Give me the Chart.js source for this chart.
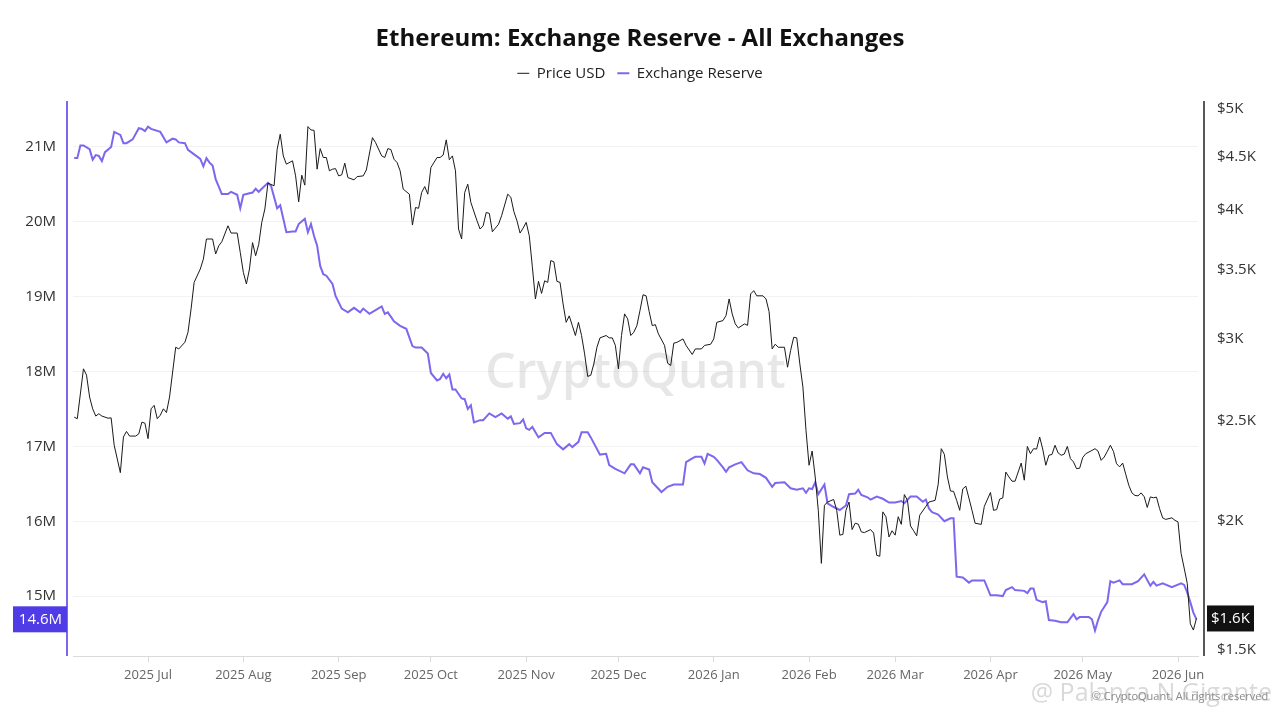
<!DOCTYPE html>
<html>
<head>
<meta charset="utf-8">
<script src="https://cdn.jsdelivr.net/npm/chart.js@4.4.1/dist/chart.umd.min.js"></script>
<style>
html,body{margin:0;padding:0;background:#fff;}
#wrap{width:1280px;height:720px;position:relative;}
</style>
</head>
<body>
<div id="wrap"><canvas id="c" width="1280" height="720"></canvas></div>
<script>
// ---------- DATA ----------
const START_DATE = '2025-06-01'; // day 0 for the day-offset arrays below

const monthTicks = ['2025-07-01','2025-08-01','2025-09-01','2025-10-01','2025-11-01','2025-12-01',
                    '2026-01-01','2026-02-01','2026-03-01','2026-04-01','2026-05-01','2026-06-01'];
const monthLabels = ['2025 Jul','2025 Aug','2025 Sep','2025 Oct','2025 Nov','2025 Dec',
                     '2026 Jan','2026 Feb','2026 Mar','2026 Apr','2026 May','2026 Jun'];
const reserveTicks = [15,16,17,18,19,20,21];           // millions ETH
const priceTicks = [1500,2000,2500,3000,3500,4000,4500,5000]; // USD

// Exchange Reserve (millions ETH), day offsets from START_DATE
const reserveDay = [6,7,8,9,11,12,13,14,15,16,18,19,21,22,23,25,27,28,29,30,31,34,36,38,39,40,42,43,45,47,48,49,50,51,52,54,56,57,59,60,61,62,64,65,66,67,69,70,72,73,75,77,78,79,81,82,83,84,85,86,87,88,90,91,93,95,97,99,100,102,104,106,107,108,110,112,114,116,117,119,121,122,124,125,126,127,128,129,130,132,133,134,135,136,138,139,141,143,145,147,148,149,151,152,153,154,155,157,159,161,163,165,167,168,170,171,173,174,177,179,180,182,185,187,188,190,191,193,194,197,199,201,204,205,207,208,210,211,212,214,215,217,218,219,221,223,225,227,229,231,233,234,237,239,241,243,244,245,246,247,248,250,251,253,255,257,258,260,261,262,264,265,267,269,271,273,275,276,278,280,282,283,284,285,287,289,291,292,293,295,297,298,300,302,304,306,308,309,311,312,315,316,317,318,319,321,322,323,325,327,329,331,332,333,336,337,338,339,340,342,343,344,346,347,350,352,354,356,357,358,360,363,366,367,368,369,370,371];
const reserveM = [20.85,20.85,21.02,21.02,20.97,20.83,20.89,20.88,20.81,20.93,21.00,21.20,21.16,21.05,21.05,21.10,21.25,21.24,21.21,21.27,21.24,21.20,21.06,21.11,21.10,21.06,21.05,20.96,20.90,20.84,20.74,20.85,20.79,20.75,20.57,20.37,20.37,20.40,20.36,20.18,20.36,20.37,20.39,20.44,20.40,20.44,20.52,20.48,20.18,20.22,19.86,19.87,19.87,19.97,20.04,19.86,19.97,19.81,19.68,19.41,19.30,19.28,19.17,19.01,18.84,18.79,18.85,18.79,18.84,18.77,18.82,18.87,18.77,18.79,18.67,18.61,18.57,18.34,18.32,18.32,18.24,17.98,17.88,17.90,17.97,17.91,17.96,17.76,17.76,17.64,17.63,17.50,17.55,17.32,17.35,17.35,17.44,17.39,17.44,17.37,17.40,17.30,17.31,17.36,17.24,17.22,17.26,17.12,17.18,17.18,17.03,16.96,17.03,16.99,17.06,17.19,17.19,17.12,16.89,16.90,16.75,16.70,16.64,16.76,16.76,16.64,16.72,16.69,16.52,16.39,16.46,16.49,16.49,16.79,16.84,16.86,16.86,16.77,16.90,16.86,16.82,16.72,16.66,16.72,16.76,16.79,16.68,16.64,16.63,16.58,16.46,16.51,16.52,16.44,16.42,16.44,16.38,16.44,16.43,16.52,16.36,16.49,16.24,16.19,16.15,16.21,16.36,16.37,16.42,16.35,16.32,16.29,16.33,16.30,16.25,16.25,16.27,16.24,16.33,16.33,16.26,16.29,16.17,16.12,16.09,16.00,16.04,16.04,15.26,15.25,15.18,15.21,15.21,15.21,15.01,15.01,15.00,15.08,15.12,15.08,15.07,15.04,15.10,15.10,14.95,14.92,14.93,14.68,14.67,14.65,14.65,14.76,14.69,14.72,14.72,14.69,14.54,14.68,14.79,14.92,15.20,15.18,15.21,15.16,15.16,15.20,15.29,15.14,15.19,15.14,15.17,15.12,15.17,15.15,15.05,14.92,14.78,14.69];

// ETH price (USD), day offsets from START_DATE
const priceDay = [6,7,9,10,11,12,13,14,15,17,18,19,21,22,23,24,26,27,28,29,30,31,32,33,34,35,36,37,39,40,42,43,44,45,47,48,49,51,52,53,54,56,57,59,60,61,62,63,64,65,66,67,68,69,71,72,73,74,75,77,78,79,80,81,82,83,84,85,86,87,88,89,90,91,92,93,94,95,97,98,100,101,103,104,106,107,108,109,110,111,112,113,115,116,117,118,119,120,121,122,124,125,126,127,128,129,130,131,132,133,134,135,137,138,139,140,141,142,144,145,147,148,149,150,151,152,153,154,155,156,157,158,159,160,161,162,163,164,165,166,167,168,169,170,171,172,173,174,175,176,177,179,180,181,182,183,184,185,186,187,188,189,190,191,192,193,194,195,196,198,199,200,201,202,204,205,207,208,210,211,213,214,215,217,218,219,220,221,222,224,225,226,227,228,230,231,232,233,234,235,237,238,239,240,241,242,243,244,245,246,247,248,249,250,251,253,254,255,256,257,258,259,260,261,262,263,265,266,267,268,269,270,271,272,273,274,275,276,277,278,279,280,281,283,284,286,287,288,289,290,291,292,293,294,295,296,298,299,301,302,304,305,306,307,308,309,310,311,312,314,315,316,317,318,319,320,321,322,323,324,325,326,327,328,329,330,331,332,333,334,335,337,338,339,340,341,342,343,344,345,346,347,348,349,350,351,352,353,354,355,356,357,358,359,360,361,363,364,365,366,367,368,369,370,371];
const priceUSD = [2519,2510,2805,2766,2634,2566,2525,2538,2525,2513,2515,2366,2226,2410,2440,2415,2415,2427,2491,2485,2401,2566,2586,2510,2530,2566,2545,2634,2943,2932,2976,3043,3205,3400,3503,3581,3745,3745,3622,3689,3722,3857,3795,3795,3635,3477,3388,3503,3715,3608,3700,3886,4003,4241,4216,4573,4729,4506,4424,4457,4310,4068,4317,4222,4810,4774,4770,4375,4580,4490,4490,4359,4375,4380,4310,4320,4434,4294,4272,4303,4310,4367,4693,4642,4506,4490,4580,4570,4473,4440,4359,4185,4138,3863,4017,4010,4154,4209,4138,4391,4490,4490,4515,4670,4468,4506,4359,3829,3745,4154,4231,4063,3900,3829,3857,3973,3965,3806,3870,3944,4138,4110,3980,3900,3795,3837,3886,3772,3520,3277,3408,3318,3412,3400,3569,3560,3408,3400,3241,3111,3156,3088,3021,3111,3021,2900,2758,2765,2836,2943,3005,3021,3005,3005,2955,2805,3021,3170,3135,3021,3043,3088,3193,3308,3300,3186,3088,3095,3032,2955,2840,2826,2970,2975,2998,2955,2896,2932,2932,2955,2963,2998,3111,3123,3159,3277,3170,3100,3072,3100,3090,3314,3338,3300,3300,3277,3186,2932,2963,2943,2943,2815,2922,3009,3005,2836,2693,2446,2263,2336,2205,2047,1819,2070,2085,2097,2047,1937,1940,2047,2085,1961,1989,1985,1951,1948,1961,1946,1852,1848,2040,2018,1929,1956,1937,2018,1984,2120,2093,1977,1956,1934,2025,2065,2085,2093,2169,2348,2319,2205,2137,2135,2093,2047,2147,2160,2047,1989,1984,2065,2130,2047,2050,2099,2104,2229,2205,2184,2184,2274,2189,2360,2322,2348,2346,2410,2346,2263,2314,2318,2366,2326,2314,2320,2360,2297,2280,2246,2248,2302,2322,2339,2348,2335,2288,2305,2334,2366,2334,2271,2255,2274,2218,2164,2128,2116,2114,2128,2110,2060,2109,2105,2108,2055,2013,2006,2013,2002,1995,1860,1800,1740,1590,1568,1609];

// ---------- HELPERS ----------
const FONT = '"Open Sans", "Noto Sans", sans-serif';
const [sy, sm, sd] = START_DATE.split('-').map(Number);
const T0 = Date.UTC(sy, sm - 1, sd);
function dayOf(s) { const [y, m, d] = s.split('-').map(Number); return (Date.UTC(y, m - 1, d) - T0) / 86400000; }

const reserveData = reserveDay.map((d, i) => ({ x: d, y: reserveM[i] }));
const priceData = priceDay.map((d, i) => ({ x: d, y: priceUSD[i] }));
const lastReserve = reserveM[reserveM.length - 1];
const lastPrice = priceUSD[priceUSD.length - 1];

const PURPLE = '#7b68ee';
const PRICE_COLOR = '#1a1a1a';

const decor = {
  id: 'decor',
  beforeDraw(chart) {
    const ctx = chart.ctx;
    ctx.save();
    ctx.fillStyle = '#ffffff';
    ctx.fillRect(0, 0, chart.width, chart.height);
    ctx.restore();
  },
  beforeDatasetsDraw(chart) {
    const { ctx, chartArea: a } = chart;
    ctx.save();
    ctx.font = '600 48px ' + FONT;
    ctx.fillStyle = 'rgba(120,120,130,0.18)';
    ctx.textAlign = 'center';
    ctx.textBaseline = 'middle';
    ctx.fillText('CryptoQuant', (a.left + a.right) / 2, (a.top + a.bottom) / 2 - 4);
    ctx.restore();
  },
  afterDraw(chart) {
    const { ctx, chartArea: a, scales } = chart;
    ctx.save();
    // left axis line (purple)
    ctx.strokeStyle = PURPLE;
    ctx.lineWidth = 2;
    ctx.beginPath();
    ctx.moveTo(a.left - 6, a.top);
    ctx.lineTo(a.left - 6, a.bottom);
    ctx.stroke();
    // right axis line (black)
    ctx.strokeStyle = '#222';
    ctx.lineWidth = 1.5;
    ctx.beginPath();
    ctx.moveTo(a.right + 6, a.top);
    ctx.lineTo(a.right + 6, a.bottom);
    ctx.stroke();

    // current value boxes
    ctx.font = '15px ' + FONT;
    ctx.textBaseline = 'middle';
    const yr = scales.yR.getPixelForValue(lastReserve);
    const lt = (Math.floor(lastReserve * 10) / 10).toFixed(1) + 'M';
    ctx.fillStyle = '#4f3ce6';
    ctx.fillRect(13, yr - 13, a.left - 6 - 13, 26);
    ctx.fillStyle = '#fff';
    ctx.textAlign = 'right';
    ctx.fillText(lt, a.left - 11, yr);

    const yp = scales.yP.getPixelForValue(lastPrice);
    const pt = '$' + (lastPrice / 1000).toFixed(1) + 'K';
    ctx.fillStyle = '#111';
    ctx.fillRect(a.right + 9, yp - 13, 47, 26);
    ctx.fillStyle = '#fff';
    ctx.textAlign = 'left';
    ctx.fillText(pt, a.right + 13, yp);

    // repost watermark + copyright
    ctx.textAlign = 'right';
    ctx.font = '25px ' + FONT;
    ctx.fillStyle = 'rgba(170,170,170,0.45)';
    ctx.fillText('@ Palanca N Gigante', 1272, 694);
    ctx.font = '11px ' + FONT;
    ctx.fillStyle = '#8a8a8a';
    ctx.textAlign = 'center';
    ctx.fillText('\u00A9 CryptoQuant. All rights reserved', 1180, 697);
    ctx.restore();
  }
};

new Chart(document.getElementById('c'), {
  type: 'line',
  data: {
    datasets: [
      { label: 'Price USD', data: priceData, yAxisID: 'yP', borderColor: PRICE_COLOR, backgroundColor: PRICE_COLOR,
        borderWidth: 1, pointRadius: 0, tension: 0 },
      { label: 'Exchange Reserve', data: reserveData, yAxisID: 'yR', borderColor: PURPLE, backgroundColor: PURPLE,
        borderWidth: 2, pointRadius: 0, tension: 0 }
    ]
  },
  options: {
    responsive: false,
    animation: false,
    devicePixelRatio: 1,
    layout: { padding: { left: 0, right: 0, top: 0, bottom: 24 } },
    plugins: {
      title: { display: true, text: 'Ethereum: Exchange Reserve - All Exchanges', color: '#111',
               font: { family: FONT, size: 24, weight: 'bold' }, padding: { top: 25, bottom: 0 } },
      // empty subtitle placed below the legend, used only as a spacer above the plot
      subtitle: { display: true, text: '', weight: 500, font: { size: 1 }, padding: { top: 0, bottom: 9 } },
      legend: { display: true, position: 'top',
                labels: { usePointStyle: true, pointStyle: 'line', pointStyleWidth: 12, color: '#222',
                          font: { family: FONT, size: 15 }, padding: 12 } },
      tooltip: { enabled: false }
    },
    scales: {
      x: {
        type: 'linear', min: 5.6, max: 371.5,
        afterBuildTicks: s => { s.ticks = monthTicks.map(d => ({ value: dayOf(d) })); },
        afterFit: s => { s.height = 40; },
        grid: { drawOnChartArea: false, drawTicks: true, tickLength: 6, color: '#dadada' },
        border: { display: true, color: '#dadada' },
        ticks: { color: '#666', font: { family: FONT, size: 13 }, padding: 5, maxRotation: 0, autoSkip: false,
                 callback: (v, i) => monthLabels[i] }
      },
      yR: {
        type: 'linear', position: 'left', min: 14.2, max: 21.613,
        afterBuildTicks: s => { s.ticks = reserveTicks.map(v => ({ value: v })); },
        afterFit: s => { s.width = 73; },
        grid: { color: '#f2f2f2', drawTicks: false },
        border: { display: false },
        ticks: { color: '#333', font: { family: FONT, size: 15 }, padding: 17, callback: v => v + 'M' }
      },
      yP: {
        type: 'logarithmic', position: 'right', min: 1480, max: 5092,
        afterBuildTicks: s => { s.ticks = priceTicks.map(v => ({ value: v })); },
        afterFit: s => { s.width = 82; },
        grid: { display: false, drawTicks: false },
        border: { display: false },
        ticks: { color: '#333', font: { family: FONT, size: 15 }, padding: 19,
                 callback: v => '$' + (v / 1000) + 'K' }
      }
    }
  },
  plugins: [decor]
});
</script>
</body>
</html>
